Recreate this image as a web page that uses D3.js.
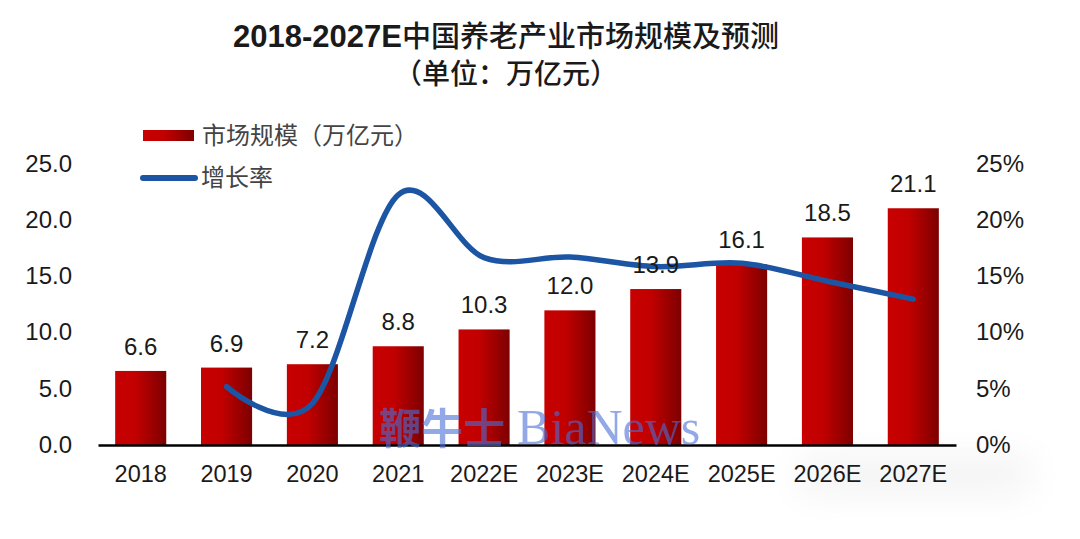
<!DOCTYPE html>
<html>
<head>
<meta charset="utf-8">
<title>中国养老产业市场规模及预测</title>
<script src="https://cdn.jsdelivr.net/npm/d3@7"></script>
<style>
	html, body { margin: 0; padding: 0; background: #fff; }
	text { font-family: "Liberation Sans", Arial, sans-serif; fill: #1a1a1a; }
	.cjk { font-family: "Noto Sans CJK SC", sans-serif; }
</style>
</head>
<body>
<div id="chart"></div>
<script>
var categories = ["2018", "2019", "2020", "2021", "2022E", "2023E", "2024E", "2025E", "2026E", "2027E"];
var marketSize = [6.6, 6.9, 7.2, 8.8, 10.3, 12.0, 13.9, 16.1, 18.5, 21.1];
var growthYears = ["2019", "2020", "2021", "2022E", "2023E", "2024E", "2025E", "2026E", "2027E"];
var growthRate = [5.2, 3.7, 22.3, 16.7, 16.75, 15.9, 16.2, 14.6, 13.0];
var leftTicks = [0, 5, 10, 15, 20, 25];
var rightTicks = [0, 5, 10, 15, 20, 25];

var w = 1080, h = 539;
var svg = d3.select("#chart").append("svg").attr("width", w).attr("height", h).style("display", "block");

var x = d3.scaleBand().domain(categories).range([98, 956]).paddingInner(0.405).paddingOuter(0.2);
var yLeft = d3.scaleLinear().domain([0, 25]).range([445, 164.5]);
var yRight = d3.scaleLinear().domain([0, 25]).range([445, 164.5]);

var defs = svg.append("defs");
var grad = defs.append("linearGradient").attr("id", "barFill");
grad.append("stop").attr("offset", "0%").attr("stop-color", "#c80000");
grad.append("stop").attr("offset", "40%").attr("stop-color", "#c20000");
grad.append("stop").attr("offset", "100%").attr("stop-color", "#7d0000");
defs.append("filter").attr("id", "soft")
	.attr("x", "-30%").attr("y", "-200%").attr("width", "160%").attr("height", "500%")
	.append("feGaussianBlur").attr("stdDeviation", 18);

// faint grey smudge behind the lower right labels
svg.append("rect").attr("x", 800).attr("y", 458).attr("width", 230).attr("height", 34)
	.attr("fill", "#f2f2f2").attr("filter", "url(#soft)");

// bars
svg.selectAll(".bar").data(categories).enter().append("rect")
	.attr("class", "bar")
	.attr("x", function(d) { return x(d); })
	.attr("y", function(d, i) { return yLeft(marketSize[i]); })
	.attr("width", x.bandwidth())
	.attr("height", function(d, i) { return yLeft(0) - yLeft(marketSize[i]); })
	.attr("fill", "url(#barFill)");

// axes
var xAxis = svg.append("g").attr("transform", "translate(0,445)")
	.call(d3.axisBottom(x).tickSize(0).tickPadding(20));
xAxis.select(".domain").attr("stroke", "#000").attr("stroke-width", 2.5);
xAxis.selectAll("text").attr("font-size", 23.5).attr("fill", "#1a1a1a");

var leftAxis = svg.append("g").attr("transform", "translate(72,-0.5)")
	.call(d3.axisLeft(yLeft).tickValues(leftTicks).tickSize(0).tickPadding(0).tickFormat(d3.format(".1f")));
leftAxis.select(".domain").remove();
leftAxis.selectAll("text").attr("font-size", 24).attr("fill", "#1a1a1a");

var rightAxis = svg.append("g").attr("transform", "translate(976,-0.5)")
	.call(d3.axisRight(yRight).tickValues(rightTicks).tickSize(0).tickPadding(0).tickFormat(function(d) { return d + "%"; }));
rightAxis.select(".domain").remove();
rightAxis.selectAll("text").attr("font-size", 24).attr("fill", "#1a1a1a");

// growth line
var line = d3.line()
	.x(function(d, i) { return x(growthYears[i]) + x.bandwidth() / 2; })
	.y(function(d) { return yRight(d); })
	.curve(d3.curveCardinal.tension(0));
svg.append("path").datum(growthRate)
	.attr("d", line).attr("fill", "none")
	.attr("stroke", "#1b55a3").attr("stroke-width", 5.5).attr("stroke-linecap", "round");

// value labels
svg.selectAll(".val").data(categories).enter().append("text")
	.attr("class", "val")
	.attr("x", function(d) { return x(d) + x.bandwidth() / 2; })
	.attr("y", function(d, i) { return yLeft(marketSize[i]) - 16; })
	.attr("text-anchor", "middle").attr("font-size", 24)
	.text(function(d, i) { return d3.format(".1f")(marketSize[i]); });

// title
var title = svg.append("text").attr("x", 506).attr("y", 47).attr("text-anchor", "middle");
title.append("tspan").attr("font-size", 31).attr("font-weight", "bold").text("2018-2027E");
title.append("tspan").attr("class", "cjk").attr("font-size", 29).attr("font-weight", 500).text("中国养老产业市场规模及预测");
svg.append("text").attr("class", "cjk").attr("x", 506).attr("y", 84).attr("text-anchor", "middle")
	.attr("font-size", 28).attr("font-weight", 500).text("（单位：万亿元）");

// legend
svg.append("rect").attr("x", 143).attr("y", 130).attr("width", 51).attr("height", 11).attr("fill", "url(#barFill)");
svg.append("line").attr("x1", 143).attr("x2", 195).attr("y1", 178).attr("y2", 178)
	.attr("stroke", "#1b55a3").attr("stroke-width", 6).attr("stroke-linecap", "round");
svg.append("text").attr("class", "cjk").attr("x", 202).attr("y", 144).attr("font-size", 24).style("fill", "#444").text("市场规模（万亿元）");
svg.append("text").attr("class", "cjk").attr("x", 201).attr("y", 186).attr("font-size", 24).style("fill", "#444").text("增长率");

// watermark
var mark = svg.append("text").attr("x", 379).attr("y", 444).attr("opacity", 0.6).style("fill", "#4a6fd8");
mark.append("tspan").attr("font-family", "'Noto Sans CJK SC'").attr("font-size", 42).attr("font-weight", 700).text("鞭牛士");
mark.append("tspan").attr("font-family", "'Liberation Serif'").attr("font-size", 50).attr("dx", 12).text("BiaNews");
</script>
</body>
</html>
